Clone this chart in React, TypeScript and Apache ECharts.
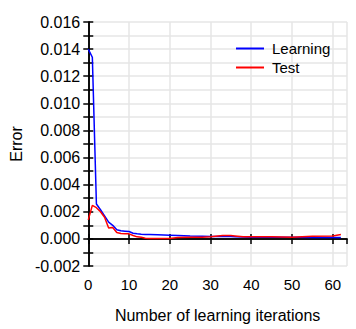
import React, { useEffect, useRef } from "react";
import * as echarts from "echarts";

const iterations = [0, 1, 2, 3, 4, 5, 6, 7, 8, 9, 10, 11, 12, 13, 14, 15, 17, 20, 22, 25, 28, 30, 33, 35, 36, 38, 40, 45, 50, 55, 60, 62];
const learning = [0.014, 0.0134, 0.00257, 0.00215, 0.0017, 0.00123, 0.001, 0.00067, 0.0006, 0.00057, 0.00054, 0.00042, 0.00038, 0.00035, 0.00033, 0.00032, 0.0003, 0.00027, 0.00025, 0.00022, 0.0002, 0.00018, 0.00017, 0.00017, 0.00016, 0.00014, 0.00012, 0.00012, 0.00012, 0.00011, 0.0001, 0.0001];
const test = [0.0014, 0.00247, 0.0023, 0.002, 0.0016, 0.0008, 0.00084, 0.00047, 0.0004, 0.00038, 0.00037, 0.00025, 0.00015, 0.00012, 0.00005, 0.00002, 0.00002, 0.00003, 0.0001, 0.00012, 0.00013, 0.00015, 0.00025, 0.00025, 0.00022, 0.00015, 0.00015, 0.00015, 0.00012, 0.0002, 0.00022, 0.00032];

const FONT = "Liberation Sans, Arial, sans-serif";

export default function App() {
  const ref = useRef<HTMLDivElement>(null);
  useEffect(() => {
    if (!ref.current) return;
    const chart = echarts.init(ref.current, undefined, { renderer: "svg" });
    const axisLine = { show: true, lineStyle: { color: "#000", width: 1.5 } };
    const splitLine = { show: true, lineStyle: { color: "#e6e6e6", width: 1.5 } };
    const tick = { show: true, inside: true, length: 5, lineStyle: { color: "#000", width: 1.5 } };
    chart.setOption({
      animation: false,
      textStyle: { fontFamily: FONT },
      grid: { left: 86, top: 22, right: 9, bottom: 63, containLabel: false },
      legend: {
        orient: "vertical",
        left: 231,
        top: 36,
        itemWidth: 28,
        itemHeight: 2,
        itemGap: 4,
        icon: "rect",
        textStyle: { fontSize: 15, color: "#000", fontFamily: FONT, padding: [0, 0, 0, 3] },
        data: [{ name: "Learning" }, { name: "Test" }],
      },
      xAxis: [
        {
          type: "value",
          min: 0,
          max: 63.5,
          interval: 10,
          axisLine,
          axisTick: tick,
          axisLabel: { fontSize: 15, color: "#000", margin: 11, showMaxLabel: false, fontFamily: FONT },
          splitLine,
          name: "Number of learning iterations",
          nameLocation: "middle",
          nameGap: 41,
          nameTextStyle: { fontSize: 16, color: "#000", fontFamily: FONT },
        },
        {
          type: "value",
          position: "top",
          min: 0,
          max: 63.5,
          interval: 10,
          axisLine,
          axisTick: tick,
          axisLabel: { show: false },
          splitLine: { show: false },
        },
      ],
      yAxis: [
        {
          type: "value",
          min: -0.002,
          max: 0.016,
          interval: 0.001,
          axisLine,
          axisTick: tick,
          axisLabel: {
            fontSize: 16,
            color: "#000",
            margin: 8,
            fontFamily: FONT,
            formatter: (v: number) => (Math.round(v * 1000) % 2 === 0 ? v.toFixed(3) : ""),
          },
          splitLine,
          name: "Error",
          nameLocation: "middle",
          nameGap: 63,
          nameTextStyle: { fontSize: 16, color: "#000", fontFamily: FONT },
        },
        {
          type: "value",
          position: "right",
          min: -0.002,
          max: 0.016,
          interval: 0.001,
          axisLine,
          axisTick: tick,
          axisLabel: { show: false },
          splitLine: { show: false },
        },
      ],
      series: [
        {
          name: "Learning",
          type: "line",
          symbol: "none",
          lineStyle: { color: "#0000ff", width: 1.5 },
          itemStyle: { color: "#0000ff" },
          data: iterations.map((x, i) => [x, learning[i]]),
        },
        {
          name: "Test",
          type: "line",
          symbol: "none",
          lineStyle: { color: "#ff0000", width: 1.5 },
          itemStyle: { color: "#ff0000" },
          data: iterations.map((x, i) => [x, test[i]]),
        },
      ],
    });
    return () => chart.dispose();
  }, []);
  return <div ref={ref} style={{ width: 356, height: 329, position: "absolute", left: 0, top: 0 }} />;
}
